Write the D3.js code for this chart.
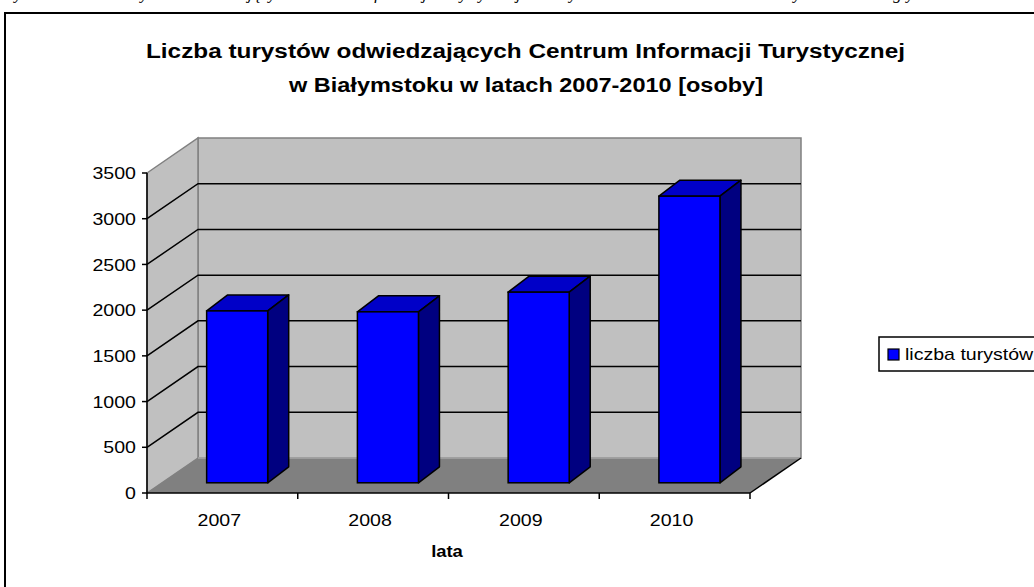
<!DOCTYPE html>
<html>
<head>
<meta charset="utf-8">
<script src="https://cdn.jsdelivr.net/npm/d3@7"></script>
<style>
  body { margin: 0; background: #fff; }
  svg text { font-family: Arial, "Liberation Sans", sans-serif; }
</style>
</head>
<body>
<div id="chart"></div>
<script>
// data
const years = ["2007", "2008", "2009", "2010"]
const tourists = [1880, 1870, 2085, 3135]
const yTicks = [0, 500, 1000, 1500, 2000, 2500, 3000, 3500]
const titleLines = [
  "Liczba turystów odwiedzających Centrum Informacji Turystycznej",
  "w Białymstoku w latach 2007-2010 [osoby]"
]
const seriesName = "liczba turystów"
const xTitle = "lata"

const width = 1034, height = 587
const stretch = 1.15 // text in the picture is a bit wider than plain Arial

const svg = d3.select("#chart").append("svg")
  .attr("width", width)
  .attr("height", height)

svg.append("rect").attr("width", width).attr("height", height).attr("fill", "#fff")

// caption of the page above, cut off by the top edge (only descenders show)
svg.append("text")
  .attr("x", 2).attr("y", -1)
  .style("font-family", "'Liberation Serif', 'Times New Roman', serif")
  .style("font-style", "italic")
  .style("font-size", "17px")
  .text("Wykres 4. Liczba turystów odwiedzających Centrum Informacji Turystycznej w Białymstoku w latach 2007-2010 – wyniki z lat ubiegłych")

// chart frame
svg.append("rect")
  .attr("x", 5).attr("y", 13)
  .attr("width", 1100).attr("height", 700)
  .attr("fill", "none").attr("stroke", "#000").attr("stroke-width", 2)

// title
const titleBox = [[146, 905], [289, 763]]
titleLines.forEach((t, i) => {
  svg.append("text")
    .attr("x", (titleBox[i][0] + titleBox[i][1]) / 2)
    .attr("y", 58 + i * 34)
    .attr("text-anchor", "middle")
    .attr("textLength", titleBox[i][1] - titleBox[i][0])
    .attr("lengthAdjust", "spacingAndGlyphs")
    .style("font-size", "20px")
    .style("font-weight", "bold")
    .text(t)
})

// 3d geometry
const D = { x: 51, y: -35 }          // floor depth (front -> back wall)
const barOff = { x: 14.8, y: -10.2 } // where the bar front face sits in depth
const barDepth = { x: 21, y: -16 }

const x = d3.scaleBand().domain(years).range([147, 750])
const y = d3.scaleLinear().domain([0, 3500]).range([493, 173])
const barW = x.bandwidth() * 0.405

const x0 = x.range()[0], x1 = x.range()[1]
const yTop = y(3500), yBot = y(0)

// back wall
svg.append("polygon")
  .attr("points", [[x0 + D.x, yTop + D.y], [x1 + D.x, yTop + D.y], [x1 + D.x, yBot + D.y], [x0 + D.x, yBot + D.y]].join(" "))
  .attr("fill", "#c0c0c0").attr("stroke", "#808080").attr("stroke-width", 1.5)

// left wall
svg.append("polygon")
  .attr("points", [[x0, yTop], [x0 + D.x, yTop + D.y], [x0 + D.x, yBot + D.y], [x0, yBot]].join(" "))
  .attr("fill", "#c0c0c0").attr("stroke", "#808080").attr("stroke-width", 1.5)

// floor
svg.append("polygon")
  .attr("points", [[x0, yBot], [x0 + D.x, yBot + D.y], [x1 + D.x, yBot + D.y], [x1, yBot]].join(" "))
  .attr("fill", "#808080")
svg.append("line")
  .attr("x1", x0 + D.x).attr("y1", yBot + D.y).attr("x2", x1 + D.x).attr("y2", yBot + D.y)
  .attr("stroke", "#a6a6a6").attr("stroke-width", 1.5)
svg.append("line")
  .attr("x1", x1).attr("y1", yBot).attr("x2", x1 + D.x).attr("y2", yBot + D.y)
  .attr("stroke", "#000").attr("stroke-width", 1.5)

// gridlines (top one is the wall edge)
const grid = yTicks.filter(v => v > 0 && v < 3500)
svg.append("g").selectAll("path")
  .data(grid)
  .join("path")
  .attr("d", v => `M${x0},${y(v)}L${x0 + D.x},${y(v) + D.y}L${x1 + D.x},${y(v) + D.y}`)
  .attr("fill", "none").attr("stroke", "#000").attr("stroke-width", 1.5)

// axes
svg.append("line")
  .attr("x1", x0).attr("y1", yTop).attr("x2", x0).attr("y2", yBot)
  .attr("stroke", "#000").attr("stroke-width", 1.5)
svg.append("line")
  .attr("x1", x0).attr("y1", yBot).attr("x2", x1).attr("y2", yBot)
  .attr("stroke", "#000").attr("stroke-width", 1.5)

svg.append("g").selectAll("line")
  .data(yTicks)
  .join("line")
  .attr("x1", x0 - 5).attr("x2", x0)
  .attr("y1", v => y(v)).attr("y2", v => y(v))
  .attr("stroke", "#000").attr("stroke-width", 1.5)

svg.append("g").selectAll("line")
  .data([...years.map(d => x(d)), x1])
  .join("line")
  .attr("x1", d => d).attr("x2", d => d)
  .attr("y1", yBot).attr("y2", yBot + 6)
  .attr("stroke", "#000").attr("stroke-width", 1.5)

// bars
const bars = svg.append("g").selectAll("g")
  .data(years.map((yr, i) => ({ yr, v: tourists[i] })))
  .join("g")

const geom = d => {
  const l = x(d.yr) + x.bandwidth() / 2 - barW / 2 + barOff.x
  const r = l + barW
  const t = y(d.v) + barOff.y
  const b = y(0) + barOff.y
  return { l, r, t, b }
}

bars.append("polygon")
  .attr("points", d => {
    const g = geom(d)
    return [[g.l, g.t], [g.r, g.t], [g.r + barDepth.x, g.t + barDepth.y], [g.l + barDepth.x, g.t + barDepth.y]].join(" ")
  })
  .attr("fill", "#0000c8").attr("stroke", "#000").attr("stroke-width", 1.5).attr("stroke-linejoin", "round")

bars.append("polygon")
  .attr("points", d => {
    const g = geom(d)
    return [[g.r, g.t], [g.r + barDepth.x, g.t + barDepth.y], [g.r + barDepth.x, g.b + barDepth.y], [g.r, g.b]].join(" ")
  })
  .attr("fill", "#000080").attr("stroke", "#000").attr("stroke-width", 1.5).attr("stroke-linejoin", "round")

bars.append("rect")
  .attr("x", d => geom(d).l)
  .attr("y", d => geom(d).t)
  .attr("width", barW)
  .attr("height", d => geom(d).b - geom(d).t)
  .attr("fill", "#0000ff").attr("stroke", "#000").attr("stroke-width", 1.5)

// tick labels
svg.append("g").selectAll("text")
  .data(yTicks)
  .join("text")
  .attr("class", "stretch")
  .attr("x", 136)
  .attr("y", v => y(v))
  .attr("dy", "0.36em")
  .attr("text-anchor", "end")
  .style("font-size", "17px")
  .text(v => v)

svg.append("g").selectAll("text")
  .data(years)
  .join("text")
  .attr("class", "stretch")
  .attr("x", d => x(d) + x.bandwidth() / 2 - 3)
  .attr("y", 526)
  .attr("text-anchor", "middle")
  .style("font-size", "17px")
  .text(d => d)

svg.append("text")
  .attr("class", "stretch")
  .attr("x", 447)
  .attr("y", 557)
  .attr("text-anchor", "middle")
  .style("font-size", "16px")
  .style("font-weight", "bold")
  .text(xTitle)

// legend
const legend = svg.append("g").attr("transform", "translate(879,337)")
legend.append("rect")
  .attr("width", 200).attr("height", 34)
  .attr("fill", "#fff").attr("stroke", "#000").attr("stroke-width", 1.5)
legend.append("rect")
  .attr("x", 9).attr("y", 12).attr("width", 11).attr("height", 11)
  .attr("fill", "#0000ff").attr("stroke", "#000").attr("stroke-width", 1.2)
legend.append("text")
  .attr("class", "stretch")
  .attr("x", 26).attr("y", 23)
  .style("font-size", "17px")
  .text(seriesName)

// widen the plain font a little to match the picture
svg.selectAll("text.stretch").each(function () {
  const w = this.getComputedTextLength()
  d3.select(this).attr("textLength", w * stretch).attr("lengthAdjust", "spacingAndGlyphs")
})
</script>
</body>
</html>
